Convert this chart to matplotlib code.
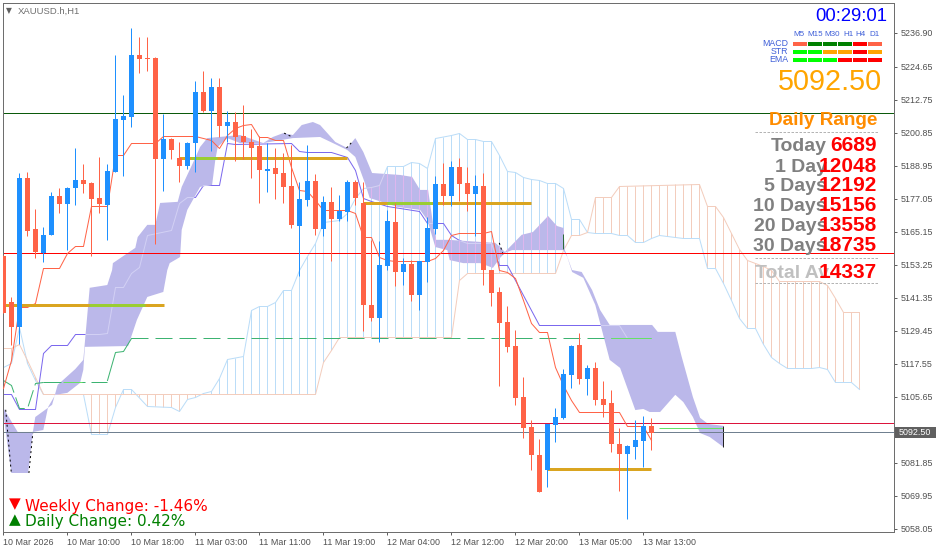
import matplotlib
matplotlib.use("Agg")
import matplotlib.pyplot as plt
from matplotlib.lines import Line2D
from matplotlib.patches import Rectangle
import numpy as np

W, H = 939, 552

# candles, one per hour
opens = [5156.5, 5139.9, 5130.9, 5184.6, 5166.2, 5157.6, 5164.1, 5178.1, 5175.2, 5181.0,
         5183.9, 5182.8, 5177.4, 5174.9, 5186.8, 5205.5, 5206.6, 5229.0, 5227.9, 5227.9,
         5191.5, 5198.7, 5191.8, 5188.9, 5197.2, 5215.6, 5208.8, 5217.4, 5203.4, 5204.8,
         5199.8, 5197.6, 5196.2, 5187.1, 5188.2, 5186.4, 5181.7, 5167.3, 5176.7, 5183.5,
         5166.2, 5176.0, 5169.8, 5172.3, 5183.2, 5175.6, 5138.8, 5134.1, 5152.9, 5168.7,
         5150.7, 5153.6, 5142.4, 5154.3, 5166.2, 5182.5, 5178.1, 5188.6, 5182.8, 5178.8,
         5181.7, 5151.4, 5143.5, 5132.7, 5124.0, 5105.6, 5094.8, 5084.7, 5079.3, 5095.5,
         5098.1, 5113.6, 5124.4, 5112.1, 5116.1, 5104.9, 5103.5, 5088.7, 5085.1, 5087.6,
         5089.8, 5095.2]
closes = [5135.9, 5130.9, 5184.6, 5165.5, 5157.9, 5164.1, 5178.1, 5175.2, 5181.0, 5183.9,
          5182.5, 5177.0, 5175.2, 5187.1, 5205.9, 5207.0, 5229.0, 5227.5, 5227.5, 5191.5,
          5198.7, 5194.7, 5188.9, 5197.2, 5215.6, 5208.8, 5217.4, 5203.4, 5204.8, 5199.4,
          5197.6, 5195.4, 5187.5, 5187.9, 5186.1, 5181.4, 5167.7, 5177.0, 5183.5, 5166.2,
          5176.0, 5169.8, 5172.7, 5183.2, 5177.4, 5138.8, 5134.1, 5153.2, 5169.1, 5150.7,
          5153.6, 5142.4, 5154.7, 5166.6, 5182.5, 5178.1, 5188.6, 5182.5, 5178.8, 5181.7,
          5151.4, 5143.1, 5132.3, 5123.7, 5105.3, 5094.5, 5084.7, 5071.4, 5095.9, 5098.4,
          5113.9, 5124.0, 5112.1, 5116.1, 5104.6, 5102.8, 5088.7, 5085.1, 5088.0, 5090.1,
          5095.2, 5092.6]
highs = [5156.8, 5141.7, 5186.4, 5186.8, 5173.4, 5166.9, 5179.6, 5181.0, 5181.4, 5195.4,
         5189.7, 5183.2, 5192.2, 5189.7, 5229.0, 5214.5, 5238.7, 5235.5, 5235.5, 5228.2,
         5207.7, 5199.0, 5197.6, 5197.6, 5219.6, 5223.2, 5220.7, 5220.7, 5208.8, 5208.4,
         5210.9, 5202.3, 5199.8, 5197.2, 5195.4, 5193.6, 5196.5, 5183.2, 5196.5, 5186.1,
         5178.1, 5181.4, 5178.5, 5183.9, 5183.9, 5183.2, 5162.3, 5161.9, 5173.1, 5175.6,
         5155.8, 5155.0, 5154.7, 5170.5, 5185.3, 5190.0, 5190.7, 5191.8, 5188.6, 5185.7,
         5186.4, 5151.4, 5145.3, 5138.5, 5129.8, 5112.9, 5097.3, 5090.5, 5095.9, 5101.7,
         5115.7, 5124.4, 5128.7, 5117.2, 5118.3, 5111.4, 5108.2, 5094.5, 5088.3, 5097.3,
         5098.8, 5098.1]
lows = [5135.9, 5124.4, 5124.8, 5163.7, 5155.8, 5154.3, 5164.1, 5172.0, 5158.6, 5174.9,
        5179.2, 5156.5, 5172.0, 5162.3, 5186.8, 5185.3, 5203.0, 5222.5, 5223.2, 5160.8,
        5179.9, 5191.5, 5183.2, 5187.9, 5186.8, 5208.4, 5194.3, 5199.4, 5197.6, 5190.7,
        5191.5, 5184.6, 5175.6, 5179.6, 5177.0, 5175.6, 5166.6, 5149.3, 5174.5, 5164.1,
        5163.7, 5154.7, 5169.1, 5169.1, 5174.9, 5129.4, 5133.0, 5125.5, 5151.4, 5145.7,
        5146.0, 5140.3, 5137.0, 5147.1, 5164.4, 5174.9, 5174.5, 5176.3, 5172.7, 5163.7,
        5146.0, 5138.5, 5109.6, 5121.9, 5102.8, 5090.9, 5079.3, 5071.4, 5073.2, 5089.4,
        5097.7, 5108.9, 5110.3, 5106.4, 5102.8, 5098.4, 5085.8, 5071.7, 5061.6, 5083.3,
        5080.4, 5086.5]

tenkan = [5108.9, 5119.0, 5138.1, 5138.1, 5139.5, 5152.2, 5152.2, 5152.2, 5157.6, 5160.1,
          5160.1, 5174.5, 5174.5, 5174.5, 5192.9, 5192.9, 5197.2, 5197.2, 5197.2, 5197.2,
          5199.8, 5199.8, 5199.8, 5199.8, 5199.8, 5199.0, 5198.3, 5195.4, 5200.1, 5202.6,
          5203.7, 5204.1, 5199.4, 5199.4, 5198.3, 5198.3, 5188.6, 5180.3, 5179.9, 5176.7,
          5173.1, 5173.1, 5173.1, 5173.1, 5172.0, 5163.3, 5163.3, 5156.1, 5155.0, 5154.7,
          5154.7, 5154.7, 5154.7, 5154.7, 5155.8, 5158.6, 5164.1, 5164.8, 5164.8, 5164.8,
          5164.8, 5165.5, 5151.4, 5150.7, 5148.6, 5140.6, 5132.3, 5129.1, 5129.1, 5116.5,
          5110.0, 5104.6, 5100.2, 5100.2, 5100.2, 5100.2, 5100.2, 5100.2, 5095.2, 5095.2,
          5095.2, 5090.1]

kijun_bars = [0, 1, 2, 4, 5, 6, 8, 9, 12, 13, 14, 15, 16, 17, 18, 21, 22, 23, 24, 25, 27, 28, 29,
              36, 37, 38, 41, 43, 44, 45, 46, 48, 52, 53, 55, 56, 57, 58, 61, 62, 63, 67, 77, 78, 81]
kijun = [5106.7, 5106.7, 5101.3, 5101.3, 5121.5, 5124.4, 5124.4, 5128.4, 5128.4, 5128.7, 5145.3,
         5145.3, 5150.4, 5152.5, 5164.1, 5165.9, 5175.6, 5177.8, 5177.8, 5182.1, 5182.1, 5197.2,
         5196.9, 5197.2, 5194.3, 5194.0, 5194.0, 5192.2, 5187.5, 5177.4, 5176.3, 5174.5, 5172.7,
         5168.4, 5168.4, 5164.1, 5162.3, 5161.2, 5161.2, 5153.2, 5153.2, 5131.6, 5131.6, 5126.9,
         5126.9]

# green line, cut in parts so each dash run starts where it does on the chart
chikou_head_bars = [0, 1, 2, 3, 4, 5]
chikou_head = [5111.8, 5110.0, 5101.7, 5101.7, 5110.7, 5111.1]
chikou_mid_bars = [5, 13]
chikou_mid = [5111.1, 5111.1]
chikou_rise_bars = [13, 14, 15, 16]
chikou_rise = [5111.8, 5121.9, 5122.2, 5126.9]
chikou_tail_bars = [16, 81]
chikou_tail = [5126.9, 5126.9]
# bits of the green line that show bright over the cloud: start bar, end bar, price
bright_start = [0.8, 7.5, 76.0, 82.0]
bright_end = [2.0, 9.8, 81.0, 90.0]
bright_price = [5093.0, 5111.1, 5126.9, 5094.5]

span_a_bars = [0, 1, 2, 3, 4, 5, 39, 40, 41, 42, 56, 57, 58, 69, 70, 71, 72, 73, 74, 76, 77, 87,
               88, 89, 90, 91, 92, 93, 94, 95, 96, 97, 102, 103, 104, 105, 107]
span_a = [5123.3, 5123.3, 5124.8, 5119.0, 5112.9, 5106.7, 5106.7, 5118.3, 5122.6, 5127.1, 5127.1,
          5147.8, 5150.4, 5150.4, 5158.6, 5164.1, 5164.1, 5165.1, 5177.8, 5177.8, 5181.7, 5182.5,
          5174.5, 5174.5, 5170.5, 5164.8, 5159.0, 5155.0, 5153.9, 5152.9, 5151.4, 5147.5, 5147.5,
          5146.0, 5141.3, 5136.3, 5136.3]
span_b_bars = [0, 1, 2, 3, 4, 5, 10, 11, 13, 14, 15, 16, 18, 21, 22, 23, 24, 25, 26, 27, 28, 30,
               31, 32, 33, 34, 35, 36, 37, 38, 39, 40, 41, 42, 43, 44, 45, 46, 47, 48, 50, 51, 52,
               53, 54, 56, 57, 58, 59, 60, 61, 62, 63, 64, 65, 66, 67, 68, 69, 70, 71, 72, 73, 74,
               76, 77, 78, 79, 80, 81, 82, 83, 84, 85, 87, 88, 89, 90, 91, 92, 93, 94, 95, 96, 97,
               98, 101, 102, 103, 104, 106, 107]
span_b = [5116.5, 5117.9, 5130.9, 5117.9, 5111.8, 5106.7, 5106.7, 5092.3, 5092.3, 5102.0, 5108.5,
          5108.5, 5102.4, 5102.0, 5100.6, 5104.9, 5105.6, 5107.1, 5107.8, 5112.5, 5119.3, 5120.4,
          5137.0, 5138.5, 5138.5, 5139.9, 5144.2, 5144.2, 5151.4, 5156.5, 5161.2, 5168.7, 5169.1,
          5169.5, 5172.0, 5177.4, 5181.0, 5181.4, 5182.1, 5188.9, 5188.9, 5190.4, 5190.0, 5188.2,
          5199.0, 5200.1, 5200.8, 5198.7, 5198.7, 5198.0, 5198.0, 5192.9, 5187.1, 5186.8, 5185.0,
          5184.3, 5183.9, 5182.8, 5182.8, 5181.0, 5169.8, 5169.8, 5165.1, 5164.8, 5164.8, 5164.1,
          5164.1, 5161.5, 5161.5, 5163.0, 5164.1, 5163.7, 5163.3, 5163.0, 5163.0, 5152.2, 5152.2,
          5146.8, 5140.6, 5134.1, 5130.5, 5130.5, 5124.8, 5120.1, 5117.9, 5116.1, 5116.1, 5116.5,
          5115.7, 5111.1, 5111.1, 5108.5]

cloud_top_bars = [0, 1.8, 3.7, 4.0, 6.1, 6.8, 7.5, 9.0, 10.0, 10.3, 10.8, 13.0, 13.6, 13.7, 16.5,
                  16.8, 18.0, 19.0, 19.6, 21.8, 22.3, 23.7, 24.6, 25.5, 29.6, 32.5, 33.7, 35.0,
                  36.2, 37.3, 38.7, 39.6, 41.5, 43.0, 44.0, 45.0, 46.1, 49.6, 51.1, 52.1, 53.1,
                  53.7, 54.1, 55.6, 61.5, 62.1, 62.7, 64.8, 66.2, 68.1, 69.2, 70.0, 70.2, 71.1,
                  72.3, 73.6, 74.6, 75.8, 81.1, 81.8, 84.0, 84.8, 86.2, 87.1, 88.1, 90.0]
cloud_top = [5101.7, 5093.0, 5093.0, 5098.4, 5102.8, 5110.0, 5111.8, 5115.7, 5119.0, 5128.7, 5145.0,
             5146.0, 5151.4, 5153.9, 5159.4, 5163.3, 5167.7, 5167.7, 5175.6, 5176.0, 5181.4, 5190.0,
             5195.8, 5199.0, 5200.1, 5197.2, 5199.4, 5200.8, 5200.1, 5203.7, 5204.8, 5203.7, 5197.6,
             5195.4, 5199.0, 5194.0, 5186.4, 5185.7, 5185.0, 5180.3, 5180.3, 5168.4, 5162.3, 5162.3,
             5161.2, 5159.7, 5157.9, 5164.1, 5165.1, 5170.9, 5167.3, 5166.6, 5158.6, 5151.4, 5150.7,
             5144.2, 5137.0, 5131.6, 5131.6, 5129.1, 5129.1, 5120.1, 5105.6, 5098.1, 5095.9, 5095.2]
cloud_low_bars = [0, 1.0, 3.1, 3.7, 5.0, 5.6, 6.5, 8.0, 9.6, 10.0, 10.2, 15.6, 16.7, 18.0, 20.0,
                  20.5, 20.8, 22.1, 22.3, 23.0, 24.6, 26.1, 26.5, 26.8, 28.0, 29.6, 32.5, 36.2,
                  39.6, 41.2, 43.0, 44.0, 45.2, 45.8, 49.2, 52.1, 53.0, 54.0, 55.5, 55.8, 57.5,
                  59.6, 61.2, 62.1, 62.7, 63.6, 70.0, 70.5, 71.1, 72.5, 74.0, 74.6, 75.8, 77.1,
                  79.0, 80.0, 80.8, 82.1, 84.0, 85.0, 86.2, 87.1, 88.3, 90.0]
cloud_low = [5099.9, 5078.2, 5078.2, 5093.0, 5093.7, 5102.0, 5106.4, 5107.1, 5110.7, 5115.4, 5123.7,
             5124.0, 5133.4, 5141.7, 5143.5, 5151.4, 5153.9, 5156.1, 5165.9, 5173.1, 5181.4, 5182.1,
             5191.1, 5195.8, 5199.0, 5197.2, 5197.2, 5199.0, 5199.4, 5197.2, 5194.7, 5192.2, 5182.8,
             5177.4, 5174.2, 5173.1, 5169.5, 5159.7, 5158.6, 5155.0, 5153.9, 5153.9, 5152.2, 5155.8,
             5157.6, 5158.6, 5158.6, 5156.1, 5150.7, 5148.6, 5138.8, 5132.3, 5119.0, 5116.1, 5100.9,
             5101.3, 5100.2, 5100.2, 5106.4, 5103.8, 5098.4, 5092.6, 5091.2, 5087.6]

# black dots left along the cloud edge: start bar, end bar, start price, end price
dots_start = [0.3, 3.2, 35.1, 42.9, 62.0]
dots_end = [1.0, 3.7, 36.1, 43.6, 62.5]
dots_p0 = [5101.0, 5078.2, 5200.8, 5195.4, 5161.2]
dots_p1 = [5078.2, 5093.0, 5199.4, 5197.6, 5156.8]

# horizontal levels
level_green = 5207.9
level_red = 5157.7
level_crimson = 5096.4
level_price = 5092.9

# gold segments and the lime part of each
gold_start = [0, 22, 45, 68]
gold_end = [20.1, 43, 66, 81]
lime_start = [10.7, 23.4, 48]
lime_end = [17.7, 26.7, 53.6]
gold_price = [5138.8, 5191.8, 5175.6, 5079.5]

y_tick_labels = ["5236.90", "5224.65", "5212.75", "5200.85", "5188.95", "5177.05", "5165.15", "5153.25",
                 "5141.35", "5129.45", "5117.55", "5105.65", "5093.75", "5081.85", "5069.95", "5058.05"]
x_tick_labels = ["10 Mar 2026", "10 Mar 10:00", "10 Mar 18:00", "11 Mar 03:00", "11 Mar 11:00", "11 Mar 19:00",
                 "12 Mar 04:00", "12 Mar 12:00", "12 Mar 20:00", "13 Mar 05:00", "13 Mar 13:00"]

timeframes = ["M5", "M15", "M30", "H1", "H4", "D1"]
tf_centers = [799, 815, 832, 848, 861, 875]
signal_names = ["MACD", "STR", "EMA"]
signal_colors = [["#FF6347", "#008000", "#008000", "#008000", "#FF0000", "#FF6347"],
                 ["#00FF00", "#00FF00", "#FFA500", "#FFA500", "#FF0000", "#FFA500"],
                 ["#00FF00", "#00FF00", "#00FF00", "#FF0000", "#FF0000", "#FF0000"]]

range_names = ["Today", "1 Day", "5 Days", "10 Days", "20 Days", "30 Days"]
range_values = ["6689", "12048", "12192", "15156", "13558", "18735"]
range_baselines = [151.5, 171.5, 191, 211, 231, 251]
range_total = "14337"

BLUE = "#1E90FF"
RED = "#FF6347"
CLOUD = "#BBB8EA"
LIGHT_BLUE = "#BBDDF8"
PEACH = "#F3CDBD"
PX = 0.72  # one pixel in points

plt.rcParams["font.family"] = ["Liberation Sans", "DejaVu Sans"]


def fx(x):
    return x / W


def fy(y):
    return 1 - y / H


fig = plt.figure(figsize=(W / 100, H / 100), dpi=100, facecolor="white")
ax = fig.add_axes([fx(2.5), fy(531.5), (893.5 - 2.5) / W, (531.5 - 2.5) / H])
ax.set_xlim(-0.1, 111.275)
ax.set_ylim(5057.1, 5247.9)

bars = np.arange(len(opens))
hatch_bars = np.arange(108)
a_at = np.interp(hatch_bars, span_a_bars, span_a)
b_at = np.interp(hatch_bars, span_b_bars, span_b)
a_top = a_at > b_at
hatch_lo = np.minimum(a_at, b_at)
hatch_hi = np.maximum(a_at, b_at)
poly_x = np.concatenate([cloud_top_bars, cloud_low_bars[::-1]])
poly_y = np.concatenate([cloud_top, cloud_low[::-1]])

# kumo hatching and lines sit under the filled band
ax.vlines(hatch_bars[a_top], hatch_lo[a_top], hatch_hi[a_top], color=PEACH, lw=PX, zorder=1)
ax.vlines(hatch_bars[~a_top], hatch_lo[~a_top], hatch_hi[~a_top], color=LIGHT_BLUE, lw=PX, zorder=1)
ax.plot(span_b_bars, span_b, color=LIGHT_BLUE, lw=PX, zorder=1, snap=True)
ax.plot(span_a_bars, span_a, color=PEACH, lw=PX, zorder=1, snap=True)
ax.plot(kijun_bars, kijun, color="#7B68EE", lw=PX, zorder=1.5, snap=True)

band = ax.fill(poly_x, poly_y, color=CLOUD, lw=0, zorder=2)[0]

# same lines again, paler where they cross the band
over = [ax.vlines(hatch_bars[~a_top], hatch_lo[~a_top], hatch_hi[~a_top], color="#DDB6EE", lw=PX, zorder=2.1),
        ax.plot(span_b_bars, span_b, color="#D6D2F2", lw=PX, zorder=2.1, snap=True)[0],
        ax.plot(span_a_bars, span_a, color="#D6C6E8", lw=PX, zorder=2.1, snap=True)[0],
        ax.plot(kijun_bars, kijun, color="#D2D0F4", lw=PX, zorder=2.1, snap=True)[0]]
for art in over:
    art.set_clip_path(band)

ax.plot(chikou_head_bars, chikou_head, color="#3CB371", lw=PX, ls=(0, (17, 5)), zorder=2.2, snap=True)
ax.plot(chikou_mid_bars, chikou_mid, color="#3CB371", lw=PX, ls=(0, (18, 6)), zorder=2.2, snap=True)
ax.plot(chikou_rise_bars, chikou_rise, color="#3CB371", lw=PX, zorder=2.2, snap=True)
ax.plot(chikou_tail_bars, chikou_tail, color="#3CB371", lw=PX, ls=(0, (17, 7)), zorder=2.2, snap=True)
ax.hlines(bright_price, bright_start, bright_end, color="#66E066", lw=PX, zorder=2.3)
ax.vlines([70, 90], [5159.0, 5087.6], [5164.4, 5095.2], color=["#2E6B3A", "#222222"], lw=PX, zorder=2.3)
for s, e, p0, p1 in zip(dots_start, dots_end, dots_p0, dots_p1):
    ax.plot([s, e], [p0, p1], color="black", lw=PX, ls=(0, (2, 3)), zorder=2.3)

# horizontals
ax.axhline(level_green, color="#0B5A0B", lw=PX, zorder=2.5)
ax.axhline(level_red, color="#FF0000", lw=PX, zorder=2.5)
ax.axhline(level_crimson, color="#DC143C", lw=PX, zorder=2.5)
ax.axhline(level_price, color="#708090", lw=PX, zorder=2.5)

ax.plot(bars, tenkan, color=RED, lw=PX, zorder=3, snap=True)

ax.hlines(gold_price, gold_start, gold_end, color="#DAA520", lw=3 * PX, zorder=3.5)
ax.hlines(gold_price[:3], lime_start, lime_end, color="#9ACD32", lw=3 * PX, zorder=3.6)

# candles
up = np.array(closes) >= np.array(opens)
colors = [BLUE if u else RED for u in up]
ax.vlines(bars, lows, highs, color=colors, lw=PX, zorder=4)
ax.bar(bars, np.abs(np.array(closes) - np.array(opens)), bottom=np.minimum(opens, closes), width=0.625,
       color=colors, lw=0, zorder=4.1, snap=True)

# axes
ax.yaxis.tick_right()
ax.set_yticks([float(t) for t in y_tick_labels])
ax.set_yticklabels(y_tick_labels)
ax.set_xticks(np.arange(0, 81, 8))
ax.set_xticklabels(x_tick_labels, ha="left")
ax.tick_params(axis="both", length=3 * PX, width=PX, color="#606060", labelsize=6.4, labelcolor="#505050")
ax.tick_params(axis="y", pad=2.8)
ax.tick_params(axis="x", pad=2.6)
for spine in ax.spines.values():
    spine.set_color("#6E6E6E")
    spine.set_linewidth(PX)

# last price tag over the axis labels
fig.add_artist(Rectangle((fx(895), fy(437.5)), 41 / W, 10.5 / H, transform=fig.transFigure, color="#606060", lw=0, zorder=5))
fig.text(fx(899), fy(432.5), "5092.50", color="white", fontsize=6.4, va="center", zorder=6)

# header
fig.text(fx(6), fy(10.5), "▼", color="#606060", fontsize=5.5, va="center", family="DejaVu Sans")
fig.text(fx(18), fy(14), "XAUUSD.h,H1", color="#707070", fontsize=6.8)

# clock and signal table
fig.text(fx(887), fy(21), "00:29:01", color="#0000FF", fontsize=13.3, ha="right")
for name, cx in zip(timeframes, tf_centers):
    fig.text(fx(cx), fy(36), name, color="#3F5FD8", fontsize=5.8, ha="center")
for r, name in enumerate(signal_names):
    yc = 43.7 + 8 * r
    fig.text(fx(788), fy(yc + 2.8), name, color="#3F5FD8", fontsize=6.3, ha="right")
    for c, col in enumerate(signal_colors[r]):
        fig.add_artist(Rectangle((fx(793.2 + 15 * c), fy(yc + 2)), 13.4 / W, 4 / H, transform=fig.transFigure, color=col, lw=0))
fig.text(fx(882), fy(89.5), "5092.50", color="#FFA500", fontsize=20.7, ha="right")

# daily range block
fig.text(fx(877), fy(125), "Daily Range", color="#FF8C00", fontsize=13.7, weight="bold", ha="right")
for y in [131.5, 258, 283]:
    fig.add_artist(Line2D([fx(755), fx(878)], [fy(y), fy(y)], transform=fig.transFigure, color="#B4B4B4", lw=PX, ls=(0, (2.5, 1.5))))
for name, val, base in zip(range_names, range_values, range_baselines):
    fig.text(fx(827), fy(base), name, color="#808080", fontsize=14, weight="bold", ha="right", zorder=3)
    fig.text(fx(877), fy(base), val, color="#FF0000", fontsize=15, weight="bold", ha="right", zorder=4)
fig.text(fx(755), fy(278), "Total Av", color="#C0C0C0", fontsize=14, weight="bold", zorder=3)
fig.text(fx(877), fy(278), range_total, color="#FF0000", fontsize=15, weight="bold", ha="right", zorder=4)

# weekly / daily change
fig.text(fx(9), fy(504), "▼", color="#FF0000", fontsize=11, va="center", family="DejaVu Sans")
fig.text(fx(25), fy(510.5), "Weekly Change: -1.46%", color="#FF0000", fontsize=11, family="DejaVu Sans")
fig.text(fx(9), fy(520), "▲", color="#008000", fontsize=11, va="center", family="DejaVu Sans")
fig.text(fx(25), fy(526), "Daily Change: 0.42%", color="#008000", fontsize=11, family="DejaVu Sans")

fig.savefig("out.png", dpi=100)
